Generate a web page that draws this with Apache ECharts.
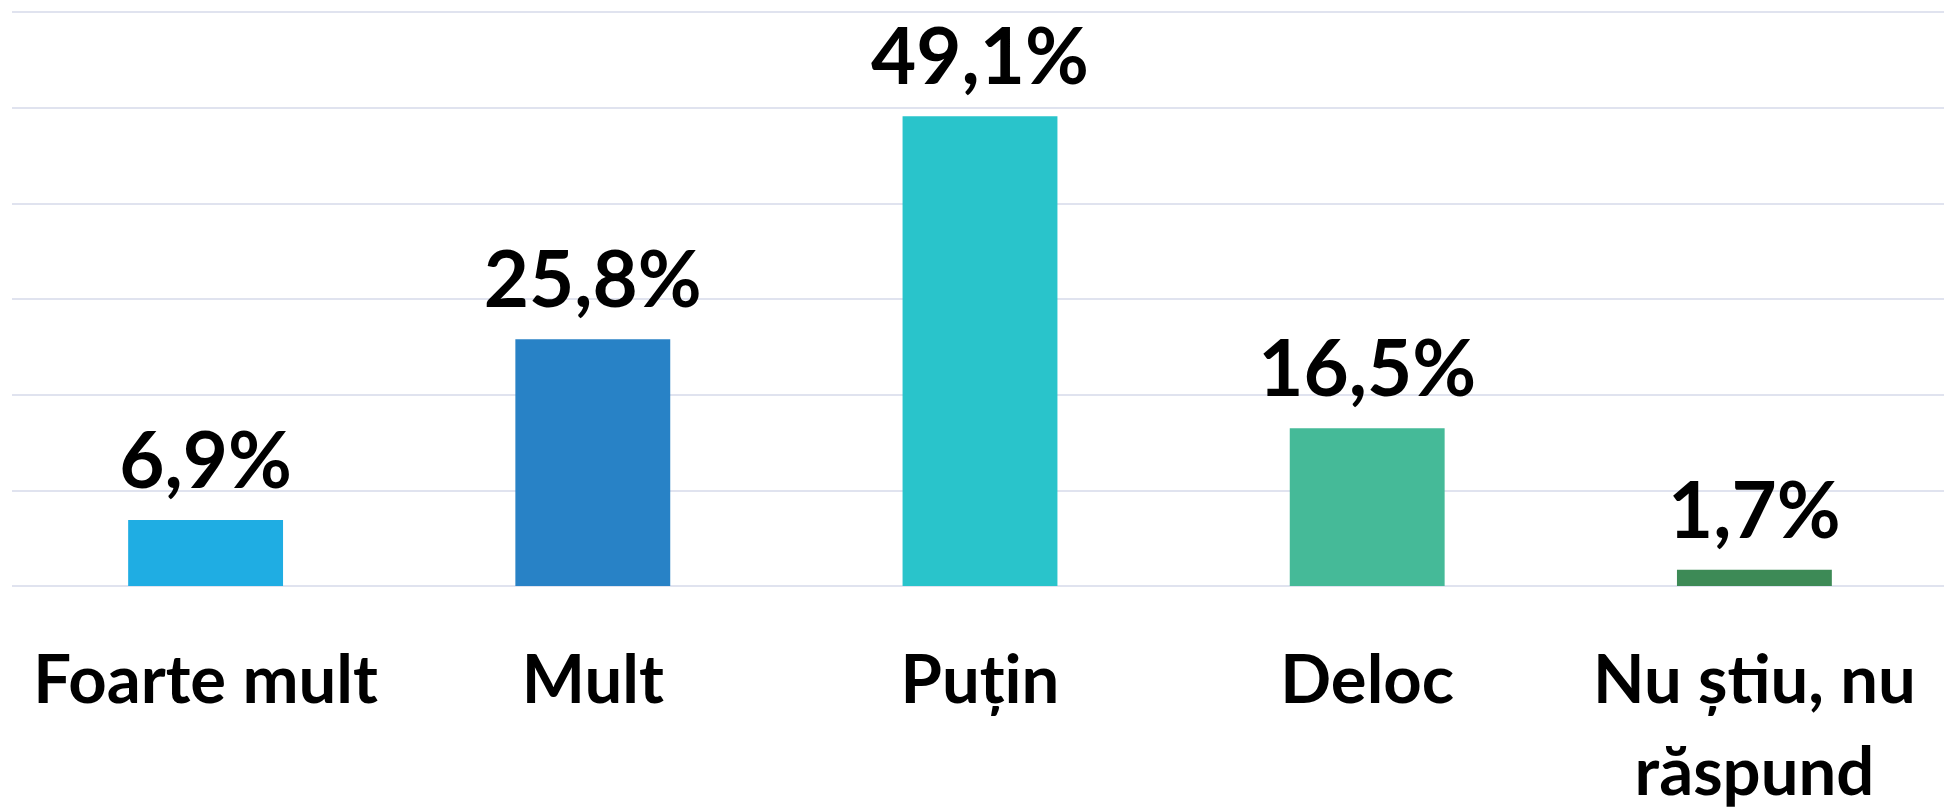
<!DOCTYPE html>
<html>
<head>
<meta charset="utf-8">
<script src="https://cdn.jsdelivr.net/npm/echarts@6/dist/echarts.min.js"></script>
<style>
  html, body { margin: 0; padding: 0; background: #fff; }
  #chart { width: 1944px; height: 810px; }
</style>
</head>
<body>
<div id="chart"></div>
<script>
// Categorias y valores (%)
const categorias = ['Foarte mult', 'Mult', 'Puțin', 'Deloc', 'Nu știu, nu\nrăspund'];
const valores = [6.9, 25.8, 49.1, 16.5, 1.7];
const coloresBarras = ['#1FADE3', '#2882C6', '#29C4CB', '#45BA98', '#3D8A56'];

const getOption = () => {
    return {
        animation: false,
        grid: {
            left: 12,
            right: -4,
            top: 12,
            bottom: 224,
            outerBoundsMode: 'none'
        },
        xAxis: {
            type: 'category',
            data: categorias,
            axisLine: { show: false },
            axisTick: { show: false },
            axisLabel: {
                interval: 0,
                margin: 49,
                color: '#000',
                fontFamily: 'Lato',
                fontWeight: 'bold',
                fontSize: 67,
                lineHeight: 92
            }
        },
        yAxis: {
            type: 'value',
            min: 0,
            max: 60,
            interval: 10,
            axisLabel: { show: false },
            axisLine: { show: false },
            axisTick: { show: false },
            splitLine: {
                lineStyle: { color: '#E0E3EF', width: 2 }
            }
        },
        series: [
            {
                type: 'bar',
                data: valores,
                barWidth: '40%',
                itemStyle: {
                    color: function (params) {
                        return coloresBarras[params.dataIndex];
                    }
                },
                label: {
                    show: true,
                    position: 'top',
                    distance: 18,
                    color: '#000',
                    fontFamily: 'Lato',
                    fontWeight: 'bold',
                    fontSize: 78,
                    formatter: function (p) {
                        return p.value.toFixed(1).replace('.', ',') + '%';
                    }
                }
            }
        ]
    };
};

const chart = echarts.init(document.getElementById('chart'));
chart.setOption(getOption());
</script>
</body>
</html>
